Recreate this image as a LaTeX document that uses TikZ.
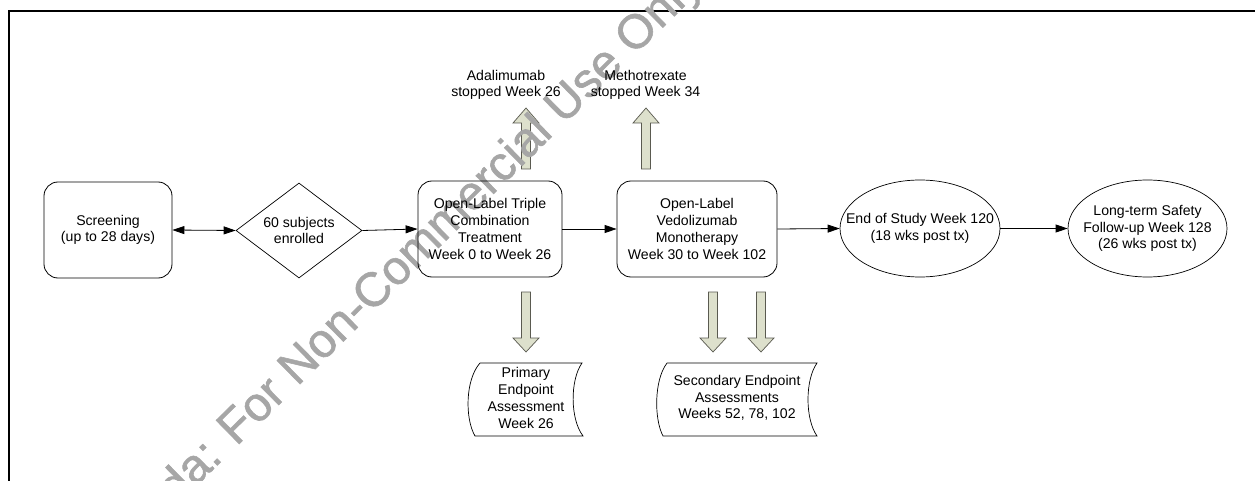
\documentclass[tikz,border=0pt]{standalone}
\usepackage{fontspec}
\setmainfont{Liberation Sans}
\newfontfamily\wmfont[FakeBold=1.2]{Liberation Sans}
\usetikzlibrary{shapes.geometric,arrows.meta}
\definecolor{blockfill}{RGB}{221,224,204}
\definecolor{blockline}{RGB}{90,90,80}
\definecolor{wmgray}{RGB}{166,166,166}
\newcommand{\zw}[1]{\makebox[0pt]{#1}}
\begin{document}
\begin{tikzpicture}[x=1pt,y=-1pt,
  every node/.style={font=\fontsize{14.1}{16.7}\selectfont, align=center},
  box/.style={draw, rounded corners=14pt, inner sep=0pt, line width=0.8pt},
  dia/.style={draw, diamond, aspect=1.33, inner sep=0pt, minimum width=126pt, minimum height=95pt, line width=0.7pt},
  ell/.style={draw, ellipse, inner sep=0pt, line width=0.7pt},
  conn/.style={line width=0.8pt, -{Triangle[length=12pt,width=8pt]}},
  dconn/.style={line width=0.8pt, {Triangle[length=12pt,width=8pt]}-{Triangle[length=12pt,width=8pt]}},
  blockarrow/.style={draw=blockline, fill=blockfill, line width=0.7pt, line join=miter},
  docline/.style={draw, line width=0.7pt},
  wm/.style={font=\wmfont\fontsize{48}{48}\selectfont, text=wmgray, inner sep=0pt},
  blockup/.pic={\path[blockarrow] (-4.5,0) -- (-4.5,-46) -- (-13,-46) -- (0,-61) -- (13,-46) -- (4.5,-46) -- (4.5,0) -- cycle;},
  blockdown/.pic={\path[blockarrow] (-4.5,0) -- (-4.5,46) -- (-13,46) -- (0,60) -- (13,46) -- (4.5,46) -- (4.5,0) -- cycle;}
]
\useasboundingbox (0,0) rectangle (1255,481);
\fill[white] (0,0) rectangle (1255,481);

% frame
\draw[line width=2pt] (9,481) -- (9,11) -- (1255,11);

% block arrows
\pic at (526,169) {blockup};
\pic at (646,169) {blockup};
\pic at (526,292) {blockdown};
\pic at (713,292) {blockdown};
\pic at (761,292) {blockdown};

% watermark
\node[wm, rotate=44.5, anchor=base west] (wmark) at (176,506) {da: For Non-Commercial Use Only};

% main row
\node[box, minimum width=128pt, minimum height=96pt] (screen) at (108,230) {Screening\\(up to 28 days)};
\node[dia] (enrol) at (299,230.5) {60 subjects\\enrolled};
\node[box, minimum width=144pt, minimum height=96pt] (triple) at (490,229) {Open-Label Triple\\Combination\\Treatment\\Week 0 to Week 26};
\node[box, minimum width=160pt, minimum height=96pt] (vedo) at (697,229) {Open-Label\\Vedolizumab\\Monotherapy\\Week 30 to Week 102};
\node[ell, minimum width=160pt, minimum height=97pt] (eos) at (920,228.5) {\zw{End of Study Week 120}\\\zw{(18 wks post tx)}};
\node[ell, minimum width=159pt, minimum height=97pt] (lt) at (1147.5,228.5) {\zw{Long-term Safety}\\\zw{Follow-up Week 128}\\\zw{(26 wks post tx)}};

% connectors
\draw[dconn] (screen.east) -- (enrol.west);
\draw[conn] (enrol.east) -- (triple.west);
\draw[conn] (triple.east) -- (vedo.west);
\draw[conn] (vedo.east) -- (eos.west);
\draw[conn] (eos.east) -- (lt.west);

% top labels
\node (ada) at (506,85) {Adalimumab\\stopped Week 26};
\node (mtx) at (645.5,85) {Methotrexate\\stopped Week 34};

% endpoint documents
\path[docline] (480,363) -- (582,363) .. controls (570,380) and (570,419) .. (583,436) -- (475,436) .. controls (465,419) and (465,380) .. (480,363) -- cycle;
\path[docline] (667,363) -- (817,363) .. controls (805,380) and (805,419) .. (817,436) -- (663,436) .. controls (654,419) and (654,380) .. (667,363) -- cycle;
\node (prim) at (526,398) {Primary\\Endpoint\\Assessment\\Week 26};
\node (sec) at (737,398) {Secondary Endpoint\\Assessments\\Weeks 52, 78, 102};
\end{tikzpicture}
\end{document}
